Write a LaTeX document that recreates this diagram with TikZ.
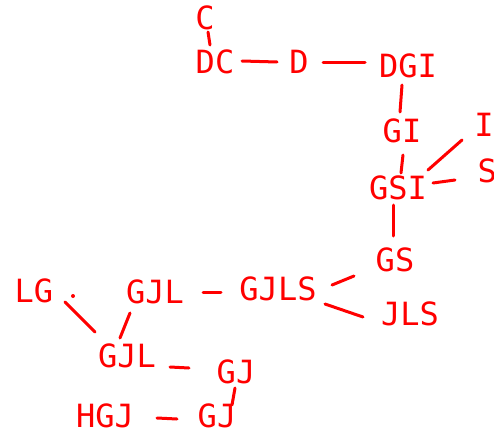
\documentclass[tikz,border=0pt]{standalone}
\usepackage{fontspec}
\newfontfamily\handfont{DejaVu Sans Mono}
\definecolor{inkred}{RGB}{255,0,0}
\tikzset{
  lbl/.style={text=inkred, inner sep=0pt, font=\handfont\fontsize{32}{32}\selectfont},
  conn/.style={draw=inkred, line width=3pt, line cap=round}
}
\begin{document}
\begin{tikzpicture}[x=1pt,y=-1pt]
\useasboundingbox (0,0) rectangle (494,436);
\clip (0,0) rectangle (494,436);
\node[lbl] (c) at (205,18) {C};
\node[lbl] (dc) at (215,62) {DC};
\node[lbl] (d) at (299,62) {D};
\node[lbl] (dgi) at (408,66) {DGI};
\node[lbl] (gi) at (402,131) {GI};
\node[lbl] (i) at (484,125) {I};
\node[lbl] (gsi) at (398,188) {GSI};
\node[lbl] (si) at (497,171) {SI};
\node[lbl] (gs) at (395,260) {GS};
\node[lbl] (gjls) at (278,289) {GJLS};
\node[lbl] (jls) at (410,314) {JLS};
\node[lbl] (gjlt) at (155,292) {GJL};
\node[lbl] (lg) at (34,291) {LG};
\node[lbl] (gjlb) at (127,356) {GJL};
\node[lbl] (gju) at (236,372) {GJ};
\node[lbl] (hgj) at (105,416) {HGJ};
\node[lbl] (gjd) at (217,416) {GJ};
\fill[inkred] (73,296) circle (2);
\draw[conn] ([shift={(3,14)}]c.center) -- ([shift={(-5,-17)}]dc.center);
\draw[conn] ([shift={(27,-1)}]dc.center) -- ([shift={(-22,0)}]d.center);
\draw[conn] ([shift={(24,0)}]d.center) -- ([shift={(-43,-4)}]dgi.center);
\draw[conn] ([shift={(-6,19)}]dgi.center) -- ([shift={(-2,-19)}]gi.center);
\draw[conn] ([shift={(1,24)}]gi.center) -- ([shift={(3,-15)}]gsi.center);
\draw[conn] ([shift={(30,-18)}]gsi.center) -- ([shift={(-22,15)}]i.center);
\draw[conn] ([shift={(35,-5)}]gsi.center) -- ([shift={(-42,9)}]si.center);
\draw[conn] ([shift={(-5,17)}]gsi.center) -- ([shift={(-2,-24)}]gs.center);
\draw[conn] ([shift={(-41,16)}]gs.center) -- ([shift={(54,-4)}]gjls.center);
\draw[conn] ([shift={(47,15)}]gjls.center) -- ([shift={(-47,3)}]jls.center);
\draw[conn] ([shift={(48,0)}]gjlt.center) -- ([shift={(-57,3)}]gjls.center);
\draw[conn] ([shift={(31,11)}]lg.center) -- ([shift={(-32,-24)}]gjlb.center);
\draw[conn] ([shift={(-25,21)}]gjlt.center) -- ([shift={(-7,-18)}]gjlb.center);
\draw[conn] ([shift={(43,11)}]gjlb.center) -- ([shift={(-47,-4)}]gju.center);
\draw[conn] ([shift={(-1,16)}]gju.center) -- ([shift={(15,-11)}]gjd.center);
\draw[conn] ([shift={(52,2)}]hgj.center) -- ([shift={(-40,3)}]gjd.center);
\end{tikzpicture}
\end{document}
